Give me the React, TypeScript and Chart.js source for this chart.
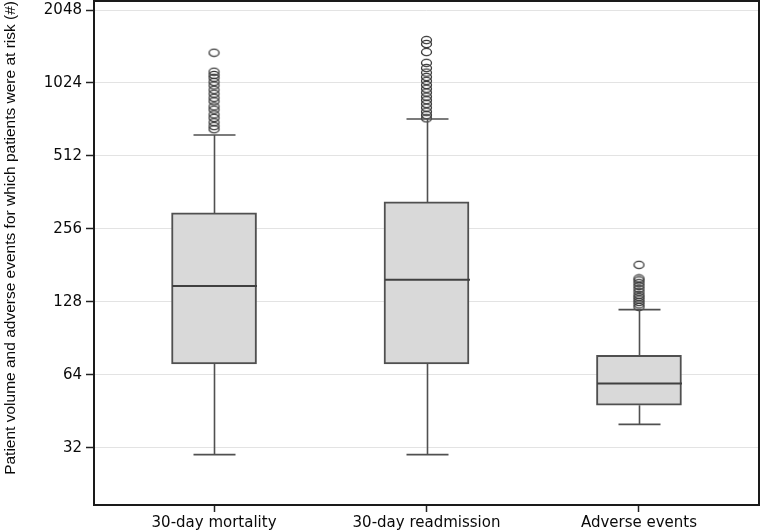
import React, { useEffect, useRef } from 'react';
import { Chart, registerables } from 'chart.js';

Chart.register(...registerables);

// ---- data ----
const categories = ['30-day mortality', '30-day readmission', 'Adverse events'];
const whiskerLow = [30, 30, 40];
const quartile1 = [71, 71, 48];
const medians = [149, 158, 59];
const quartile3 = [298, 331, 77];
const whiskerHigh = [625, 727, 119];
const outliersMortality = [660, 680, 705, 735, 760, 795, 820, 860, 890, 925, 960, 1000, 1035, 1075, 1105, 1140, 1365];
const outliersReadmission = [732, 755, 780, 810, 840, 870, 900, 935, 970, 1005, 1045, 1085, 1130, 1180, 1240, 1374, 1483, 1540];
const outliersAdverse = [122, 125, 128, 131, 134, 137, 141, 145, 149, 153, 157, 160, 182];
const yTicks = [32, 64, 128, 256, 512, 1024, 2048];
const yTitle = 'Patient volume and adverse events for which patients were at risk (#)';

// ---- styles ----
const BOX_PX = 85;
const CAP_PX = 42;
const LINE_COLOR = '#505050';
const TEXT_COLOR = '#0a0a0a';

const boxPlugin = {
  id: 'boxWhiskers',
  afterDatasetsDraw(chart: any) {
    const { ctx } = chart;
    const x = chart.scales.x;
    const y = chart.scales.y;
    ctx.save();
    categories.forEach((_, i) => {
      const cx = Math.round(x.getPixelForValue(i)) + 0.5;
      const yLow = y.getPixelForValue(whiskerLow[i]);
      const yQ1 = y.getPixelForValue(quartile1[i]);
      const yMed = y.getPixelForValue(medians[i]);
      const yQ3 = y.getPixelForValue(quartile3[i]);
      const yHigh = y.getPixelForValue(whiskerHigh[i]);
      ctx.strokeStyle = LINE_COLOR;
      ctx.lineWidth = 1.6;
      ctx.beginPath();
      ctx.moveTo(cx, yQ3);
      ctx.lineTo(cx, yHigh);
      ctx.moveTo(cx, yQ1);
      ctx.lineTo(cx, yLow);
      ctx.moveTo(cx - CAP_PX / 2, yHigh);
      ctx.lineTo(cx + CAP_PX / 2, yHigh);
      ctx.moveTo(cx - CAP_PX / 2, yLow);
      ctx.lineTo(cx + CAP_PX / 2, yLow);
      ctx.stroke();
      ctx.lineWidth = 2;
      ctx.strokeStyle = '#404040';
      ctx.beginPath();
      ctx.moveTo(cx - BOX_PX / 2, yMed);
      ctx.lineTo(cx + BOX_PX / 2, yMed);
      ctx.stroke();
    });
    ctx.restore();
  },
  afterDraw(chart: any) {
    const { ctx, chartArea } = chart;
    ctx.save();
    ctx.strokeStyle = '#1a1a1a';
    ctx.lineWidth = 2;
    ctx.strokeRect(chartArea.left, chartArea.top, chartArea.right - chartArea.left, chartArea.bottom - chartArea.top);
    ctx.restore();
  },
};

function makeEllipse(): HTMLCanvasElement {
  const c = document.createElement('canvas');
  c.width = 13;
  c.height = 10;
  const g = c.getContext('2d')!;
  g.strokeStyle = '#3a3a3a';
  g.lineWidth = 1.3;
  g.beginPath();
  g.ellipse(6.5, 5, 5, 3.6, 0, 0, Math.PI * 2);
  g.stroke();
  return c;
}

export default function App() {
  const canvasRef = useRef<HTMLCanvasElement | null>(null);

  useEffect(() => {
    if (!canvasRef.current) return;
    const ellipse = makeEllipse();
    const outlierSets = [outliersMortality, outliersReadmission, outliersAdverse];
    const outlierData = outlierSets.flatMap((vals, i) => vals.map((v) => ({ x: i, y: v })));

    const chart = new Chart(canvasRef.current, {
      type: 'bar',
      data: {
        datasets: [
          {
            type: 'bar',
            data: categories.map((_, i) => ({ x: i, y: [quartile1[i], quartile3[i]] })) as any,
            backgroundColor: '#d9d9d9',
            borderColor: LINE_COLOR,
            borderWidth: 2,
            borderSkipped: false,
            barThickness: BOX_PX,
          } as any,
          {
            type: 'scatter',
            data: outlierData,
            pointStyle: ellipse,
            showLine: false,
          } as any,
        ],
      },
      options: {
        animation: false,
        responsive: false,
        maintainAspectRatio: false,
        layout: { autoPadding: false, padding: { top: 1, right: 2, left: 0, bottom: 0 } },
        plugins: {
          legend: { display: false },
          tooltip: { enabled: false },
        },
        scales: {
          x: {
            type: 'linear',
            min: -0.565,
            max: 2.565,
            offset: false,
            afterBuildTicks: (s: any) => {
              s.ticks = categories.map((_, i) => ({ value: i }));
            },
            afterFit: (s: any) => {
              s.height = 27;
              s.paddingLeft = 0;
              s.paddingRight = 0;
            },
            ticks: {
              autoSkip: false,
              maxRotation: 0,
              minRotation: 0,
              padding: 2,
              color: TEXT_COLOR,
              font: { family: 'DejaVu Sans', size: 15 },
              callback: (v: any) => categories[Number(v)] ?? '',
            },
            grid: {
              drawOnChartArea: false,
              offset: false,
              tickColor: '#222222',
              tickLength: 7,
              tickWidth: 1.5,
            },
            border: { display: false },
          },
          y: {
            type: 'logarithmic',
            min: 18.6,
            max: 2231,
            afterBuildTicks: (s: any) => {
              s.ticks = yTicks.map((v) => ({ value: v }));
            },
            afterFit: (s: any) => {
              s.width = 94;
              s.paddingTop = 0;
              s.paddingBottom = 0;
            },
            ticks: {
              autoSkip: false,
              padding: 4,
              color: TEXT_COLOR,
              font: { family: 'DejaVu Sans', size: 15 },
              callback: (v: any) => String(v),
            },
            grid: {
              color: '#e3e3e3',
              lineWidth: 1,
              tickColor: '#222222',
              tickLength: 8,
              tickWidth: 1.5,
            },
            border: { display: false },
            title: {
              display: true,
              text: yTitle,
              align: 'end',
              color: TEXT_COLOR,
              font: { family: 'Liberation Sans', size: 15.5 },
              padding: { top: 1, bottom: 0 },
            },
          },
        },
      } as any,
      plugins: [boxPlugin],
    });
    return () => chart.destroy();
  }, []);

  return (
    <div style={{ position: 'fixed', left: 0, top: 0, width: 761, height: 532, background: '#ffffff' }}>
      <canvas ref={canvasRef} width={761} height={532} />
    </div>
  );
}
